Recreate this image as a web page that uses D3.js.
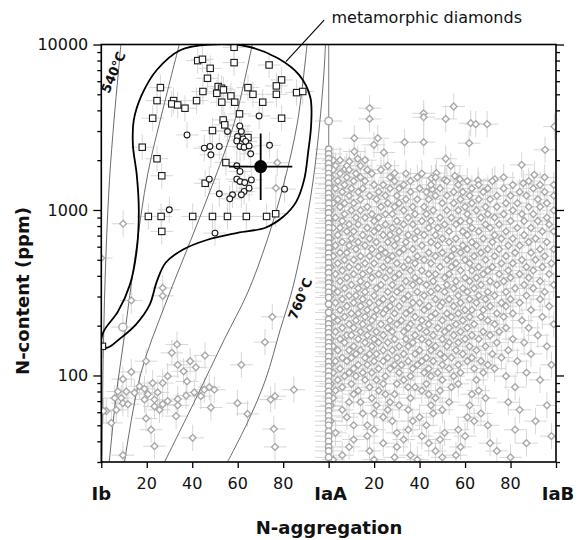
<!DOCTYPE html>
<html>
<head>
<meta charset="utf-8">
<script src="https://cdn.jsdelivr.net/npm/d3@7"></script>
<style>
  body { margin: 0; background: #fff; }
  svg { font-family: "DejaVu Sans", sans-serif; }
</style>
</head>
<body>
<svg id="chart" width="578" height="540"></svg>
<script>
// axis ticks
const yMajor = [100, 1000, 10000];
const yMinor = [30, 40, 50, 60, 70, 80, 90, 200, 300, 400, 500, 600, 700, 800, 900,
  2000, 3000, 4000, 5000, 6000, 7000, 8000, 9000];
const xTicks = [0, 20, 40, 60, 80, 100, 120, 140, 160, 180, 200];
const xNumLabels = [[20, '20'], [40, '40'], [60, '60'], [80, '80'], [120, '20'], [140, '40'], [160, '60'], [180, '80']];
const xTypeLabels = [[0, 'Ib'], [100, 'IaA'], [200, 'IaB']];

// isotherms, [%IaA, N ppm]
const iso540 = [[0.3, 30], [0.5, 54], [0.8, 125], [1.4, 287], [2.3, 660], [3.6, 1520], [5.6, 3500], [7.4, 6550], [8.6, 10000]];
const iso2 = [[3.5, 30], [6.5, 75], [10.2, 175], [15.0, 540], [20.5, 1670], [27.0, 4000], [34.3, 10000]];
const iso3 = [[10.2, 30], [17.5, 104], [27.8, 262], [39.4, 660], [49.7, 1520], [58.4, 3340], [66.4, 10000]];
const iso4 = [[27.8, 30], [41.5, 72], [54.1, 165], [64.3, 315], [73, 660], [80.3, 1450], [86.2, 3340], [90.5, 10000]];
const iso760 = [[55.5, 30], [64.3, 52], [72.2, 94], [78.7, 189], [84, 330], [88.8, 660], [93.2, 1520], [96.2, 3500], [98, 7000], [98.6, 10000]];
const isoLabels = [['540°C', 5.3, 6800, -67], ['760°C', 87.5, 291, -68]];

// outline of the metamorphic diamonds field
const metaField = [[34.9, 9270], [47.6, 10000], [64.3, 9725], [77.5, 8290], [87.0, 6550], [91.9, 4820], [92.3, 3270],
  [91.0, 2245], [89.2, 1520], [85.7, 1120], [80.0, 910], [72.1, 781], [59.9, 728], [46.7, 661], [35.8, 575],
  [28.3, 480], [24.4, 369], [21.3, 268], [15.2, 203], [8.2, 167], [2.5, 147], [0.1, 152], [1.0, 184], [7.3, 243],
  [12.6, 354], [15.6, 575], [16.5, 1003], [15.6, 1630], [13.9, 2475], [14.3, 3500], [17.8, 4955], [24.4, 7015]];
const calloutLine = [[98.0, 14060], [81.2, 7870]];

// metamorphic diamonds: squares and circles
const squares = [[58.4, 9620], [42.4, 7990], [44.5, 8140], [58.4, 7770], [73.8, 7520], [47.9, 7180], [46.7, 6250],
  [79.3, 6110], [77.0, 5620], [26.0, 5490], [51.4, 5570], [52.9, 5440], [53.7, 5320], [64.5, 5490], [66.7, 5000],
  [44.7, 5200], [50.8, 5070], [57.0, 4890], [77.0, 5000], [85.9, 5120], [88.6, 5200], [24.5, 4580], [31.8, 4580],
  [31.0, 4375], [33.6, 4315], [36.8, 4120], [41.9, 4580], [53.0, 4480], [58.7, 4480], [71.0, 4480], [60.8, 3810],
  [79.3, 3585], [22.6, 3585], [53.6, 3500], [54.3, 3270], [48.9, 3020], [64.5, 2740], [18.0, 2395], [24.5, 2040],
  [54.8, 1935], [26.6, 1610], [45.7, 1450], [20.7, 914], [26.3, 914], [40.2, 914], [48.9, 914], [55.5, 914],
  [63.8, 914], [72.7, 914], [76.7, 949], [26.6, 742], [0.5, 150]];
const circles = [[69.4, 3700], [37.7, 2840], [60.9, 3220], [61.6, 2980], [59.9, 2780], [62.4, 2690], [59.6, 2615],
  [63.5, 2595], [61.0, 2420], [62.8, 2395], [65.0, 2440], [65.7, 2185], [45.3, 2365], [47.8, 2420], [48.2, 2155],
  [51.9, 2420], [55.5, 2980], [74.0, 2460], [59.6, 1850], [61.0, 1710], [47.5, 1535], [59.6, 1535], [61.0, 1486],
  [63.1, 1465], [66.0, 1520], [65.0, 1355], [62.8, 1295], [61.6, 1236], [57.7, 1236], [56.5, 1168], [51.9, 1253],
  [80.6, 1336], [29.9, 1003], [50.0, 725]];
const meanPoint = [70.1, 1830];
const meanErrF = [56.2, 84];
const meanErrN = [1150, 2900];

// other diamonds, Ib-IaA part
const leftDiamonds = [[27, 338], [27, 303], [13.2, 284], [75.2, 226], [72, 159], [33.3, 154], [31, 137], [19.7, 122],
  [45.6, 132], [33.6, 116], [39.1, 122], [41.6, 112], [36.2, 106], [37.7, 92], [13.2, 105], [9.5, 95], [29.2, 99],
  [27, 90], [22.6, 90], [16.8, 86], [19, 83], [14.6, 78.5], [11, 80], [7.3, 80], [5.9, 73], [8.8, 73], [9.5, 68],
  [11.7, 67], [6.6, 62], [2.2, 61], [20.5, 77], [24.8, 79], [23.4, 71.5], [19, 71.5], [27, 67], [25.6, 62],
  [23.4, 65], [29.2, 70], [33.6, 72], [37.3, 75.6], [40.9, 79], [45.3, 82], [47.5, 85], [49.7, 82], [43.8, 75],
  [33.6, 66], [48.2, 64], [59.9, 68], [64.3, 58.6], [74.5, 71.5], [76.4, 75], [84.7, 82], [61.6, 116], [32.9, 56.8],
  [19.7, 55], [21.9, 47], [40.2, 42], [75.9, 47.5], [76.4, 37], [9.5, 33], [23.4, 37.4], [4.4, 51.7], [0, 512],
  [9.6, 826], [1, 61], [76.8, 1356], [77.4, 1930]];
const leftGrayCircles = [[9.5, 196]];

// pure IaA diamonds, N ppm
const iaAColumn = [3450, 2330, 2180, 2040, 1910, 1790, 1660, 1560, 1450, 1350, 1260, 1180, 1100, 1020, 960, 890,
  830, 780, 725, 680, 630, 590, 548, 515, 480, 445, 418, 388, 362, 341, 318, 296, 270, 240, 218, 205, 192, 181,
  169, 158, 149, 139, 130, 121, 113, 106, 99, 92, 86, 80, 75, 70, 65, 61, 57, 53, 50, 46, 43, 40, 37, 35, 32];

// IaA-IaB part: [%IaB, N] for the sparse top, then rows [N, [%IaB ...]]
const iaBSparse = [[18, 4120], [18, 3550], [41.8, 3840], [41.8, 3635], [55, 4220], [51.5, 3550], [62.5, 3345],
  [64.7, 3300], [69.7, 3300], [11.3, 2715], [21.6, 2715], [33.4, 2570], [41.8, 2570], [61.8, 2533], [95.2, 2310],
  [99.3, 3190], [11.3, 2256], [19.9, 2475], [24.3, 2225], [51.5, 2040], [53.7, 1850], [84.9, 1875], [29, 1670],
  [45.2, 1557], [47.4, 1670], [51, 1520], [55.5, 1608], [57.7, 1535], [65.7, 1507], [73.1, 1535], [90.5, 1631],
  [85.6, 1452], [45.6, 1336], [12.8, 2040], [9.1, 1963], [7.2, 1765]];
const iaBRows = [
  [2000, [2, 5, 16]], [1850, [3, 8, 14, 26]],
  [1750, [2, 9, 17, 23]], [1660, [5, 12, 19, 34, 41]], [1575, [1, 8, 14, 27, 39, 47, 77, 95]],
  [1495, [4, 11, 16, 29, 36, 52, 61, 72, 88]], [1420, [0.5, 7, 20, 24, 33, 45, 57, 66, 81, 93, 99]],
  [1350, [3, 10, 15, 27, 31, 40, 49, 63, 70, 77, 90]], [1285, [6, 13, 22, 36, 43, 55, 59, 68, 84, 95]],
  [1220, [1, 9, 18, 25, 30, 47, 52, 62, 74, 80, 87, 99]], [1160, [4, 14, 21, 34, 39, 44, 58, 66, 71, 92]],
  [1100, [2, 7, 11, 26, 31, 50, 55, 63, 78, 83, 96]], [1045, [5, 17, 23, 29, 37, 42, 60, 69, 74, 88, 93]],
  [995, [1, 10, 14, 33, 46, 52, 57, 65, 81, 99]], [945, [7, 19, 25, 28, 38, 43, 61, 70, 77, 85, 90]],
  [900, [3, 12, 16, 22, 35, 49, 54, 67, 73, 96]], [858, [0.5, 6, 20, 30, 41, 45, 58, 62, 80, 86, 92]],
  [818, [9, 13, 25, 33, 37, 51, 56, 69, 75, 97]], [780, [2, 5, 17, 22, 28, 44, 48, 63, 71, 83, 89]],
  [742, [8, 11, 20, 31, 39, 53, 59, 66, 78, 94, 99]], [706, [4, 15, 24, 27, 35, 42, 47, 61, 73, 86]],
  [672, [1, 10, 18, 30, 38, 50, 56, 68, 76, 81, 91]], [640, [6, 13, 21, 26, 34, 45, 53, 63, 72, 88, 96]],
  [610, [3, 9, 16, 29, 41, 48, 59, 65, 79, 84]], [580, [0.5, 12, 19, 23, 33, 37, 55, 61, 70, 75, 93, 99]],
  [552, [5, 8, 25, 31, 44, 50, 58, 67, 82, 89]], [526, [2, 14, 18, 22, 28, 39, 47, 54, 64, 73, 78, 95]],
  [500, [7, 11, 26, 35, 42, 52, 60, 69, 85, 91]], [476, [4, 16, 20, 30, 38, 45, 56, 62, 76, 81, 98]],
  [453, [1, 9, 13, 24, 33, 49, 54, 66, 72, 87, 94]], [431, [6, 18, 27, 36, 41, 58, 63, 70, 79, 90]],
  [410, [3, 11, 15, 22, 31, 44, 47, 53, 68, 75, 84, 97]], [390, [8, 19, 25, 29, 38, 51, 60, 65, 80, 88]],
  [371, [0.5, 5, 14, 34, 40, 46, 56, 62, 71, 77, 93]], [353, [10, 17, 23, 28, 37, 43, 52, 67, 74, 86, 99]],
  [336, [2, 7, 13, 21, 32, 48, 55, 59, 64, 82, 90]], [320, [4, 16, 26, 30, 39, 45, 51, 61, 70, 78, 95]],
  [304, [1, 9, 12, 20, 35, 42, 57, 66, 73, 87]], [289, [6, 15, 24, 28, 33, 47, 53, 62, 69, 80, 93]],
  [275, [3, 11, 18, 22, 37, 40, 50, 58, 65, 76, 84]], [262, [8, 14, 27, 31, 44, 49, 55, 71, 78, 97]],
  [249, [0.5, 5, 17, 21, 25, 36, 42, 60, 63, 68, 89]], [237, [10, 13, 24, 29, 34, 47, 52, 57, 74, 81]],
  [226, [2, 7, 16, 20, 38, 45, 54, 62, 67, 77, 94]], [215, [4, 12, 19, 27, 32, 41, 50, 59, 70, 85]],
  [204, [1, 9, 15, 23, 30, 36, 44, 56, 64, 73, 99]], [194, [6, 11, 18, 26, 35, 40, 48, 53, 61, 78, 88]],
  [184, [3, 14, 21, 28, 33, 43, 51, 58, 68, 75]], [175, [8, 10, 17, 24, 38, 46, 55, 63, 71, 92]],
  [166, [1, 5, 13, 20, 29, 34, 41, 50, 60, 66, 81]], [158, [7, 16, 22, 26, 37, 44, 53, 57, 74, 86]],
  [150, [2, 11, 19, 31, 35, 47, 52, 62, 69, 96]], [142, [4, 9, 14, 24, 28, 40, 45, 56, 65, 79]],
  [135, [0.5, 12, 18, 21, 33, 38, 49, 59, 72, 89]], [128, [6, 10, 16, 26, 30, 43, 51, 54, 63, 76]],
  [122, [3, 8, 20, 24, 35, 41, 46, 61, 67, 83]], [116, [1, 13, 17, 29, 32, 39, 50, 57, 70, 98]],
  [110, [5, 11, 22, 27, 37, 44, 53, 64, 73]], [104, [2, 9, 15, 19, 31, 42, 48, 58, 68, 87]],
  [99, [7, 12, 25, 36, 45, 55, 78]], [94, [4, 16, 21, 33, 50, 65, 93]], [89, [1, 10, 24, 30, 43, 57]],
  [85, [6, 18, 35, 38, 54, 82]], [81, [3, 13, 22, 41, 49, 66]], [77, [11, 25, 29, 44, 63]],
  [73, [2, 19, 36, 47, 69]], [69, [9, 14, 27, 53, 79]], [66, [1, 21, 31, 45, 62, 96]],
  [62, [6, 26, 35, 50, 84]], [59, [15, 20, 46, 67]], [56, [8, 24, 40, 61]], [53, [1, 28, 37, 64, 91]],
  [50, [11, 17, 43, 70]], [47, [20, 35, 57, 82]], [45, [3, 30, 51]], [43, [17, 41, 60, 98]],
  [41, [11, 33, 49]], [39, [24, 44, 71, 87]], [37, [9, 30, 58]], [35, [18, 47, 74]],
  [33, [6, 36, 56]], [32, [29, 50, 80]], [31, [2, 20, 39]]
];

// typical analytical errors: +-% aggregation, x/÷ factor on N
const errF = 5;
const errN = 1.2;
const errFIaA = 6;
const errNIaA = 1.08;

var svg = d3.select('#chart');
svg.append('rect').attr('width', 578).attr('height', 540).attr('fill', '#fff');

var x = d3.scaleLinear().domain([0, 200]).range([101.3, 556]),
    y = d3.scaleLog().domain([30, 10000]).range([462, 44.5]);

svg.append('defs').append('clipPath').attr('id', 'plotclip').append('rect')
  .attr('x', x(0)).attr('y', y(10000))
  .attr('width', x(200) - x(0)).attr('height', y(30) - y(10000));

var plot = svg.append('g').attr('clip-path', 'url(#plotclip)');

// collect the IaA-IaB points
var iaBPoints = iaBSparse.map(d => [100 + d[0], d[1]]);
iaBRows.forEach(r => r[1].forEach(f => iaBPoints.push([100 + f, r[0]])));
var iaAPoints = iaAColumn.map(n => [100, n]);

// error bars (grey crosses)
var errPts = [].concat(leftDiamonds, iaBPoints, squares, circles, leftGrayCircles);
var eb = plot.append('g').attr('stroke', '#d7d7d7').attr('stroke-width', 1);
eb.selectAll('.eh').data(errPts).enter().append('line')
  .attr('x1', d => x(d[0] - errF)).attr('x2', d => x(d[0] + errF))
  .attr('y1', d => y(d[1])).attr('y2', d => y(d[1]));
eb.selectAll('.ev').data(errPts).enter().append('line')
  .attr('x1', d => x(d[0])).attr('x2', d => x(d[0]))
  .attr('y1', d => y(d[1] / errN)).attr('y2', d => y(d[1] * errN));
eb.selectAll('.ea').data(iaAPoints).enter().append('line')
  .attr('x1', d => x(d[0] - errFIaA)).attr('x2', d => x(d[0] + errFIaA))
  .attr('y1', d => y(d[1])).attr('y2', d => y(d[1]));

// vertical line along pure IaA
plot.append('line')
  .attr('x1', x(100)).attr('x2', x(100)).attr('y1', y(10000)).attr('y2', y(30))
  .attr('stroke', '#9a9a9a').attr('stroke-width', 1.3);

// isotherms
var isoLine = d3.line().x(d => x(d[0])).y(d => y(d[1])).curve(d3.curveCatmullRom.alpha(0.5));
plot.selectAll('.iso').data([iso540, iso2, iso3, iso4, iso760]).enter().append('path')
  .attr('d', isoLine)
  .attr('fill', 'none').attr('stroke', '#5a5a5a').attr('stroke-width', 0.9);

// grey markers
function diamond(s) {
  return 'M0,' + (-s) + 'L' + s + ',0L0,' + s + 'L' + (-s) + ',0Z';
}
plot.selectAll('.gd').data(leftDiamonds.concat(iaBPoints)).enter().append('path')
  .attr('d', diamond(3.4))
  .attr('transform', d => 'translate(' + x(d[0]) + ',' + y(d[1]) + ')')
  .attr('fill', '#fff').attr('stroke', '#a9a9a9').attr('stroke-width', 1.4);
plot.selectAll('.gc').data(iaAPoints).enter().append('circle')
  .attr('cx', d => x(d[0])).attr('cy', d => y(d[1])).attr('r', (d, i) => i == 0 ? 3.8 : 3.2)
  .attr('fill', '#fff').attr('stroke', '#a9a9a9').attr('stroke-width', 1.4);
plot.selectAll('.gl').data(leftGrayCircles).enter().append('circle')
  .attr('cx', d => x(d[0])).attr('cy', d => y(d[1])).attr('r', 4)
  .attr('fill', '#fff').attr('stroke', '#a9a9a9').attr('stroke-width', 1.4);

// metamorphic diamond field
var fieldLine = d3.line().x(d => x(d[0])).y(d => y(d[1])).curve(d3.curveCatmullRomClosed.alpha(0.5));
plot.append('path').datum(metaField).attr('d', fieldLine)
  .attr('fill', 'none').attr('stroke', '#000').attr('stroke-width', 1.8);

// black markers
plot.selectAll('.sq').data(squares).enter().append('rect')
  .attr('x', d => x(d[0]) - 3.2).attr('y', d => y(d[1]) - 3.2)
  .attr('width', 6.4).attr('height', 6.4)
  .attr('fill', '#fff').attr('stroke', '#1a1a1a').attr('stroke-width', 1.1);
plot.selectAll('.ci').data(circles).enter().append('circle')
  .attr('cx', d => x(d[0])).attr('cy', d => y(d[1])).attr('r', 2.9)
  .attr('fill', '#fff').attr('stroke', '#1a1a1a').attr('stroke-width', 1.1);

// mean with error bars
var mean = plot.append('g').attr('stroke', '#000').attr('stroke-width', 1.8);
mean.append('line').attr('x1', x(meanErrF[0])).attr('x2', x(meanErrF[1]))
  .attr('y1', y(meanPoint[1])).attr('y2', y(meanPoint[1]));
mean.append('line').attr('x1', x(meanPoint[0])).attr('x2', x(meanPoint[0]))
  .attr('y1', y(meanErrN[0])).attr('y2', y(meanErrN[1]));
plot.append('circle').attr('cx', x(meanPoint[0])).attr('cy', y(meanPoint[1])).attr('r', 6.5).attr('fill', '#000');

// axes
function cleanAxis(g) {
  g.select('.domain').remove();
  g.selectAll('.tick line').attr('stroke', '#000').attr('stroke-width', 1.3);
}
svg.append('g').attr('transform', 'translate(0,' + y(30) + ')')
  .call(d3.axisBottom(x).tickValues(xTicks).tickSize(6).tickFormat(''))
  .call(cleanAxis);
svg.append('g').attr('transform', 'translate(' + x(0) + ',0)')
  .call(d3.axisLeft(y).tickValues(yMinor).tickSize(4).tickFormat(''))
  .call(cleanAxis);
svg.append('g').attr('transform', 'translate(' + x(0) + ',0)')
  .call(d3.axisLeft(y).tickValues(yMajor).tickSize(8).tickPadding(5).tickFormat(d3.format('d')))
  .call(cleanAxis)
  .call(g => g.selectAll('text').attr('font-size', 16).attr('fill', '#111')
    .attr('font-family', '"DejaVu Sans", sans-serif'));
svg.append('g').attr('transform', 'translate(' + x(200) + ',0)')
  .call(d3.axisRight(y).tickValues(yMinor).tickSize(4).tickFormat(''))
  .call(cleanAxis);
svg.append('g').attr('transform', 'translate(' + x(200) + ',0)')
  .call(d3.axisRight(y).tickValues(yMajor).tickSize(8).tickFormat(''))
  .call(cleanAxis);

svg.append('rect')
  .attr('x', x(0)).attr('y', y(10000))
  .attr('width', x(200) - x(0)).attr('height', y(30) - y(10000))
  .attr('fill', 'none').attr('stroke', '#000').attr('stroke-width', 1.6);

// tick labels
svg.selectAll('.xnum').data(xNumLabels).enter().append('text')
  .attr('x', d => x(d[0])).attr('y', 488.5)
  .attr('text-anchor', 'middle').attr('font-size', 16).attr('fill', '#111')
  .text(d => d[1]);
svg.selectAll('.xtype').data(xTypeLabels).enter().append('text')
  .attr('x', d => x(d[0]) + (d[0] == 0 ? 0 : 2)).attr('y', 499.5)
  .attr('text-anchor', 'middle').attr('font-size', 18).attr('font-weight', 'bold').attr('fill', '#111')
  .text(d => d[1]);

// titles
svg.append('text').attr('x', 329).attr('y', 534)
  .attr('text-anchor', 'middle').attr('font-size', 18).attr('font-weight', 'bold').attr('fill', '#111')
  .text('N-aggregation');
svg.append('text').attr('transform', 'translate(29,291) rotate(-90)')
  .attr('text-anchor', 'middle').attr('font-size', 18).attr('font-weight', 'bold').attr('fill', '#111')
  .text('N-content (ppm)');

// isotherm labels
svg.selectAll('.isolab').data(isoLabels).enter().append('text')
  .attr('transform', d => 'translate(' + x(d[1]) + ',' + y(d[2]) + ') rotate(' + d[3] + ')')
  .attr('text-anchor', 'middle').attr('dy', '0.35em')
  .attr('font-size', 13).attr('font-weight', 'bold').attr('fill', '#111')
  .text(d => d[0]);

// callout
svg.append('line')
  .attr('x1', x(calloutLine[0][0])).attr('y1', y(calloutLine[0][1]))
  .attr('x2', x(calloutLine[1][0])).attr('y2', y(calloutLine[1][1]))
  .attr('stroke', '#000').attr('stroke-width', 1.1);
svg.append('text').attr('x', 331.5).attr('y', 23)
  .attr('font-size', 16).attr('fill', '#111')
  .text('metamorphic diamonds');
</script>
</body>
</html>
